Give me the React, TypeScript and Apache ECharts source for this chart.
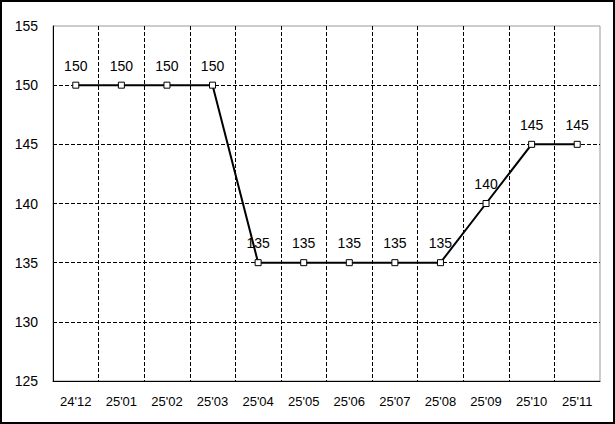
import React, { useEffect, useRef } from "react";
import * as echarts from "echarts";

const categories = ["24'12", "25'01", "25'02", "25'03", "25'04", "25'05", "25'06", "25'07", "25'08", "25'09", "25'10", "25'11"];
const values = [150, 150, 150, 150, 135, 135, 135, 135, 135, 140, 145, 145];
const yMin = 125;
const yMax = 155;
const yInterval = 5;

export default function App() {
  const ref = useRef<HTMLDivElement>(null);
  useEffect(() => {
    document.body.style.margin = "0";
    const chart = echarts.init(ref.current!, null, { renderer: "svg" });
    const font = "Liberation Sans, Arial, sans-serif";
    chart.setOption({
      animation: false,
      backgroundColor: "#ffffff",
      graphic: [
        {
          type: "rect",
          shape: { x: 1, y: 1, width: 613, height: 422 },
          style: { fill: "none", stroke: "#000", lineWidth: 2 },
          silent: true,
        },
      ],
      grid: {
        left: 53,
        top: 26,
        right: 15,
        bottom: 43,
        show: true,
        borderColor: "#999",
        borderWidth: 1,
        backgroundColor: "transparent",
      },
      xAxis: {
        type: "category",
        data: categories,
        boundaryGap: true,
        axisLine: { show: true, lineStyle: { color: "#000", width: 1 } },
        axisTick: { show: false },
        axisLabel: { color: "#000", fontSize: 13, fontFamily: font, margin: 14, interval: 0 },
        splitLine: {
          show: true,
          interval: 0,
          showMinLine: false,
          showMaxLine: false,
          lineStyle: { color: "#000", type: [4, 2], width: 1 },
        },
      },
      yAxis: {
        type: "value",
        min: yMin,
        max: yMax,
        interval: yInterval,
        axisLine: { show: true, lineStyle: { color: "#000", width: 1 } },
        axisTick: { show: false },
        axisLabel: { color: "#000", fontSize: 14, fontFamily: font, margin: 15 },
        splitLine: {
          show: true,
          showMinLine: false,
          showMaxLine: false,
          lineStyle: { color: "#000", type: [4, 2], width: 1 },
        },
      },
      series: [
        {
          type: "line",
          data: values,
          symbol: "rect",
          symbolSize: 6,
          itemStyle: { color: "#fff", borderColor: "#000", borderWidth: 1 },
          lineStyle: { color: "#000", width: 2 },
          label: {
            show: true,
            position: "top",
            distance: 9,
            color: "#000",
            fontSize: 14,
            fontFamily: font,
          },
          z: 3,
        },
      ],
    });
    return () => chart.dispose();
  }, []);
  return <div ref={ref} style={{ width: 615, height: 424 }} />;
}
